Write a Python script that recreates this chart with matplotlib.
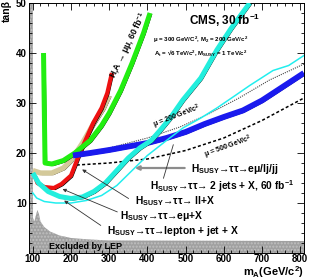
import numpy as np
import matplotlib.pyplot as plt
from matplotlib.transforms import offset_copy
from matplotlib.ticker import MultipleLocator

plt.rcParams['font.family'] = ['Liberation Sans', 'DejaVu Sans']
plt.rcParams['mathtext.fontset'] = 'custom'
plt.rcParams['mathtext.rm'] = 'Liberation Sans'
plt.rcParams['mathtext.bf'] = 'Liberation Sans:bold'
plt.rcParams['mathtext.it'] = 'Liberation Sans:italic'

# LEP excluded region (upper boundary)
lep_m = [90, 100, 100.5, 104, 108, 112, 116, 120, 130, 145, 170, 200, 250, 300, 810]
lep_t = [50, 50, 7.0, 6.3, 7.5, 8.6, 7.8, 6.3, 5.2, 4.3, 3.5, 3.0, 2.7, 2.5, 2.4]

# H,A -> mumu, 60 fb-1
green_m = [128, 132, 150, 180, 210, 250, 280, 300, 330, 360, 390, 407]
green_t = [40, 18, 17.8, 18.5, 20, 22.5, 25.5, 28, 32.5, 38, 44, 48]

# H_SUSY -> tautau -> e mu + X
red_m = [105, 112, 130, 155, 175, 200, 223, 258, 280, 295, 307]
red_t = [15.5, 14, 13.2, 13, 13.8, 15.5, 20, 26, 29, 32, 36]

# H_SUSY -> tautau -> ll + X
tan_m = [100, 120, 150, 180, 200, 230, 260, 285, 300]
tan_t = [16.5, 16, 16, 17, 18.5, 22, 26, 29, 31.5]

# H_SUSY -> tautau -> lepton + jet + X
cyan_m = [100, 115, 140, 170, 200, 230, 260, 290, 320, 350, 380, 410, 433, 460, 493, 540, 582, 620, 668]
cyan_t = [16, 14, 12.3, 11.3, 10.9, 11.2, 12.3, 14, 16.5, 19, 21, 22.5, 24.5, 27, 30.6, 35, 40.6, 45, 50]

# H_SUSY -> tautau -> e mu / lj / jj
cyan2_m = [100, 110, 130, 160, 200, 240, 280, 320, 360, 400, 450, 493, 540, 582, 630, 668, 729, 770, 810]
cyan2_t = [12, 11, 10.3, 10, 10, 10.5, 11.5, 13.5, 16.5, 19.5, 22.5, 25, 27, 29, 31.5, 33.5, 36.5, 37.5, 39.5]

# H_SUSY -> tautau -> 2 jets + X, 60 fb-1
blue_m = [205, 250, 300, 350, 400, 450, 500, 550, 600, 650, 700, 750, 810]
blue_t = [19.5, 20, 20.6, 21.3, 22, 23, 24.2, 25.8, 27.2, 28.5, 30.5, 33, 36]

# mu = 200 and mu = 500 GeV/c2 variants
mu200_m = [205, 300, 400, 485, 560, 640, 720, 810]
mu200_t = [19.6, 21, 23, 25.2, 27.8, 31, 34.6, 37.8]
mu500_m = [215, 300, 400, 500, 600, 700, 810]
mu500_t = [17.6, 18, 18.8, 20.5, 23, 26.5, 31]

fig = plt.figure(figsize=(3.13, 2.79), dpi=100)
ax = fig.add_axes([0.0927, 0.0932, 0.8783, 0.8960])

ax.fill_between(lep_m, 0, lep_t, facecolor='#a0a0a0', edgecolor='#c0c0c0',
                hatch='.....', linewidth=0, zorder=1)

sh = offset_copy(ax.transData, fig=fig, x=1.5, y=-1.5, units='dots')

ax.plot(mu200_m, mu200_t, color='#444444', lw=0.8, ls=(0, (1, 1)), zorder=2)
ax.plot(mu500_m, mu500_t, color='black', lw=1.1, ls=(0, (2, 1.5)), zorder=2)

ax.plot(tan_m, tan_t, color='black', lw=0.9, transform=sh, zorder=3)
ax.plot(tan_m, tan_t, color='#d4c99a', lw=3.8, solid_capstyle='butt', zorder=3)
ax.plot(red_m, red_t, color='black', lw=0.9, transform=sh, zorder=4)
ax.plot(red_m, red_t, color='#ee1111', lw=3.0, solid_capstyle='butt', zorder=4)
ax.plot(green_m, green_t, color='black', lw=0.9, transform=sh, zorder=5)
ax.plot(green_m, green_t, color='#22ee11', lw=3.6, solid_capstyle='butt', zorder=5)
ax.plot(blue_m, blue_t, color='black', lw=0.9, transform=sh, zorder=5)
ax.plot(blue_m, blue_t, color='#1a1aee', lw=4.2, solid_capstyle='butt', zorder=5)
ax.plot(cyan2_m, cyan2_t, color='#22eeee', lw=1.1, zorder=6)
ax.plot(cyan_m, cyan_t, color='black', lw=0.9, transform=sh, zorder=6)
ax.plot(cyan_m, cyan_t, color='#22eedd', lw=3.6, solid_capstyle='butt', zorder=6)

bold = dict(fontweight='bold')
ax.text(603, 46.6, r'CMS, 30 fb$^{\mathbf{-1}}$', ha='center', va='center', fontsize=8.5, zorder=8, **bold)
ax.text(540, 42.6, r'μ = 300 GeV/C$^{\mathbf{2}}$, M$_{\mathbf{2}}$ = 200 GeV/c$^{\mathbf{2}}$',
        ha='center', va='center', fontsize=4.4, zorder=8, **bold)
ax.text(540, 40.0, r'A$_{\mathbf{t}}$ = √6 TeV/c$^{\mathbf{2}}$, M$_{\mathbf{SUSY}}$ = 1 TeV/c$^{\mathbf{2}}$',
        ha='center', va='center', fontsize=4.4, zorder=8, **bold)
ax.text(352, 41.5, r'H,A → μμ, 60 fb$^{\mathbf{-1}}$', rotation=64, ha='center', va='center',
        fontsize=6.2, zorder=8, **bold)
ax.text(478, 27.2, r'μ = 200 GeV/c$^{\mathbf{2}}$', rotation=21, ha='center', va='center',
        fontsize=5, zorder=8, **bold)
ax.text(612, 21.2, r'μ = 500 GeV/c$^{\mathbf{2}}$', rotation=20, ha='center', va='center',
        fontsize=5, zorder=8, **bold)

sub = r'H$_{\mathbf{SUSY}}$→ττ→'
labels = [(514, 16.8, sub + 'eμ/lj/jj'),
          (407, 13.4, sub + r' 2 jets + X, 60 fb$^{\mathbf{-1}}$'),
          (368, 10.4, sub + ' ll+X'),
          (328, 7.4, sub + 'eμ+X'),
          (294, 4.4, sub + 'lepton + jet + X')]
for x, y, s in labels:
    ax.text(x, y, s, ha='left', va='center', fontsize=7.4, zorder=8, **bold)

ax.annotate('', xy=(360, 17), xytext=(505, 17),
            arrowprops=dict(arrowstyle='-|>', color='#8c8c8c', lw=1.6, mutation_scale=6), zorder=7)
ax.annotate('', xy=(470, 22.2), xytext=(440, 14.4),
            arrowprops=dict(arrowstyle='-', color='#333333', lw=0.6), zorder=7)
arrows = [((223, 17.0), (357, 10.6)),
          ((171, 13.0), (328, 8.0)),
          ((176, 10.8), (284, 5.2))]
for tip, start in arrows:
    ax.annotate('', xy=tip, xytext=start,
                arrowprops=dict(arrowstyle='-|>', color='#333333', lw=0.6, mutation_scale=5), zorder=7)

ax.text(237, 1.2, 'Excluded by LEP', ha='center', va='center', fontsize=6.5, zorder=8, **bold)

ax.set_xlim(90, 810)
ax.set_ylim(0, 50)
ax.set_xticks([100, 200, 300, 400, 500, 600, 700, 800])
ax.set_yticks([10, 20, 30, 40, 50])
ax.xaxis.set_minor_locator(MultipleLocator(20))
ax.yaxis.set_minor_locator(MultipleLocator(2))
ax.tick_params(which='both', direction='in', top=True, right=True, width=0.6)
ax.tick_params(which='major', length=5, labelsize=7, pad=1.5)
ax.tick_params(axis='x', which='major', pad=0.5)
ax.tick_params(which='minor', length=2.5)
for lab in ax.get_xticklabels() + ax.get_yticklabels():
    lab.set_fontweight('bold')
for s in ax.spines.values():
    s.set_linewidth(0.7)

fig.text(0.022, 0.96, 'tanβ', rotation=90, ha='center', va='center', fontsize=7.5, **bold)
fig.text(0.875, 0.026, r'm$_{\mathbf{A}}$(GeV/c$^{\mathbf{2}}$)', ha='center', va='center', fontsize=8, **bold)

fig.savefig('out.png', dpi=100)
